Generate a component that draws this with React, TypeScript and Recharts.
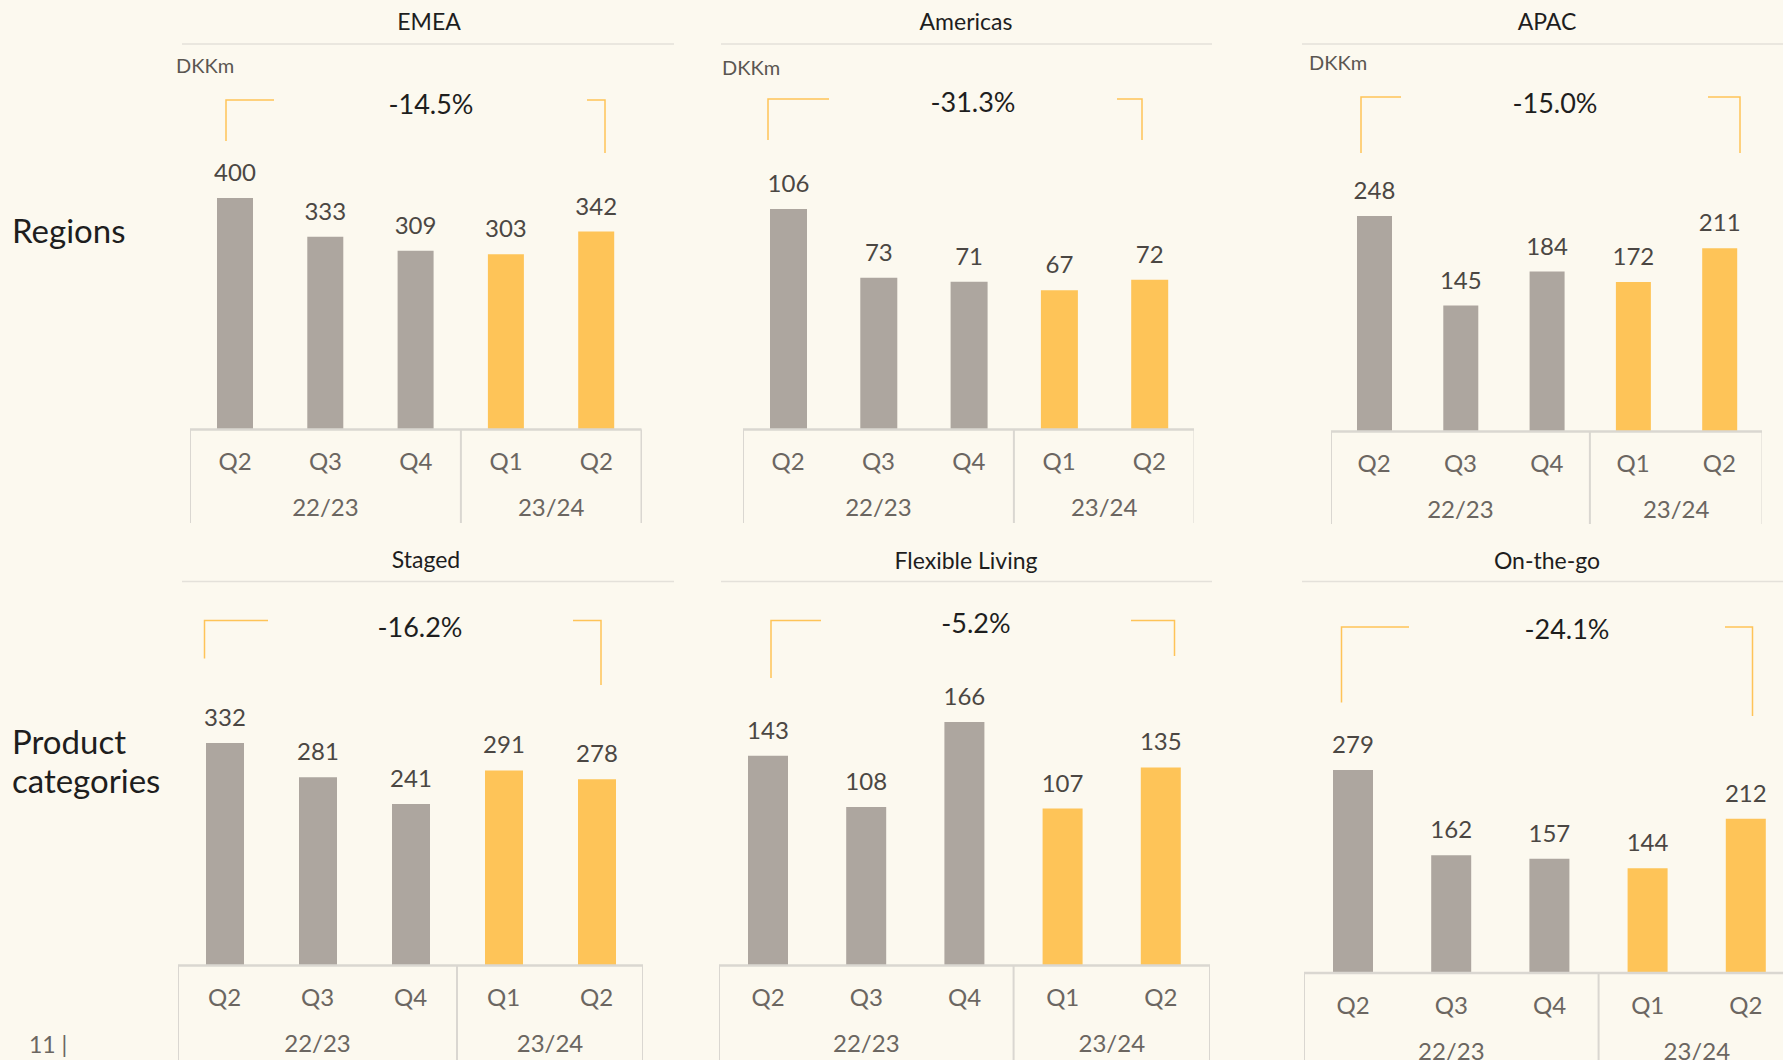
import { BarChart, Bar, XAxis, YAxis, Cell, LabelList } from 'recharts';

// shared category axis
const quarters = ['Q2', 'Q3', 'Q4', 'Q1', 'Q2'];
const fiscalYears = ['22/23', '22/23', '22/23', '23/24', '23/24'];

// DKKm per panel
const emeaValues = [400, 333, 309, 303, 342];
const americasValues = [106, 73, 71, 67, 72];
const apacValues = [248, 145, 184, 172, 211];
const stagedValues = [332, 281, 241, 291, 278];
const flexibleLivingValues = [143, 108, 166, 107, 135];
const onTheGoValues = [279, 162, 157, 144, 212];

const panelTitles = ['EMEA', 'Americas', 'APAC', 'Staged', 'Flexible Living', 'On-the-go'];
const changeLabels = ['-14.5%', '-31.3%', '-15.0%', '-16.2%', '-5.2%', '-24.1%'];
const panelValues = [emeaValues, americasValues, apacValues, stagedValues, flexibleLivingValues, onTheGoValues];
const showUnit = [true, true, true, false, false, false];

const FONT = 'Lato, "Open Sans", sans-serif';
const BG = '#FCF9EF';
const GREY_BAR = '#ADA69F';
const YELLOW_BAR = '#FEC458';
const AXIS = '#DAD7D1';

// page layout of each panel (px)
const layouts = [
  { left: 190, right: 641.5, plotTop: 198, base: 429.5, bottom: 523, bar: 36, titleX: 429, titleY: 21, lineX1: 182, lineX2: 674, lineY: 44, unitX: 176, unitY: 65, pctX: 431, pctY: 103, bl: [226, 274, 100, 141], br: [587, 605, 100, 153] },
  { left: 742.5, right: 1194, plotTop: 209, base: 429.5, bottom: 523, bar: 37, titleX: 966, titleY: 21, lineX1: 721, lineX2: 1212, lineY: 44, unitX: 722, unitY: 67, pctX: 973, pctY: 101, bl: [768, 829, 99, 140], br: [1117, 1142, 99, 140] },
  { left: 1330.5, right: 1762, plotTop: 216, base: 431.5, bottom: 524, bar: 35, titleX: 1547, titleY: 21, lineX1: 1302, lineX2: 1783, lineY: 44, unitX: 1309, unitY: 62, pctX: 1555, pctY: 102, bl: [1361, 1401, 97, 153], br: [1708, 1740, 97, 153] },
  { left: 178, right: 643, plotTop: 743, base: 965.5, bottom: 1060, bar: 38, titleX: 426, titleY: 559, lineX1: 182, lineX2: 674, lineY: 581.5, unitX: 0, unitY: 0, pctX: 420, pctY: 626, bl: [204.5, 268, 620.5, 658.5], br: [573, 601, 620.5, 685] },
  { left: 718.5, right: 1209.5, plotTop: 722, base: 965.5, bottom: 1060, bar: 40, titleX: 966, titleY: 559.5, lineX1: 721, lineX2: 1212, lineY: 581.5, unitX: 0, unitY: 0, pctX: 976, pctY: 622, bl: [771, 821, 620.5, 678], br: [1131, 1174.5, 620.5, 656] },
  { left: 1304, right: 1795, plotTop: 770, base: 973, bottom: 1060, bar: 40, titleX: 1547, titleY: 559.5, lineX1: 1302, lineX2: 1783, lineY: 581.5, unitX: 0, unitY: 0, pctX: 1567, pctY: 628, bl: [1341.5, 1409, 627, 702.5], br: [1725, 1752.5, 627, 716] },
];

const TOP_PAD = 60;

function makeTick(band: number, depth: number) {
  return (props: any) => {
    const { x, y, index } = props;
    const year = fiscalYears[index];
    const groupStart = index === 0 || fiscalYears[index - 1] !== year;
    const groupSize = fiscalYears.filter((f) => f === year).length;
    const isLast = index === fiscalYears.length - 1;
    return (
      <g>
        <text x={x} y={y + 31} textAnchor="middle" dominantBaseline="central" fill="#6B6661" fontSize={24} fontFamily={FONT}>
          {quarters[index]}
        </text>
        {groupStart && (
          <>
            <line x1={x - band / 2} x2={x - band / 2} y1={y} y2={y + depth} stroke={AXIS} strokeWidth={2} />
            <text x={x + ((groupSize - 1) * band) / 2} y={y + 77} textAnchor="middle" dominantBaseline="central" fill="#6B6661" fontSize={24} fontFamily={FONT}>
              {year}
            </text>
          </>
        )}
        {isLast && <line x1={x + band / 2} x2={x + band / 2} y1={y} y2={y + depth} stroke={AXIS} strokeWidth={2} />}
      </g>
    );
  };
}

function Panel({ idx }: { idx: number }) {
  const l = layouts[idx];
  const values = panelValues[idx];
  const data = values.map((v, i) => ({ key: i, value: v }));
  const width = l.right - l.left;
  const top = l.plotTop - TOP_PAD;
  const height = l.bottom - top;
  const axisH = l.bottom - l.base;
  const band = width / values.length;
  return (
    <div style={{ position: 'absolute', left: l.left, top }}>
      <BarChart width={width} height={height} data={data} margin={{ top: TOP_PAD, right: 0, left: 0, bottom: 0 }}>
        <XAxis
          dataKey="key"
          type="category"
          interval={0}
          height={axisH}
          tickLine={false}
          tickSize={0}
          tickMargin={0}
          axisLine={{ stroke: AXIS, strokeWidth: 2.5 }}
          tick={makeTick(band, axisH)}
        />
        <YAxis hide type="number" domain={[0, Math.max(...values)]} allowDataOverflow />
        <Bar dataKey="value" barSize={l.bar} isAnimationActive={false}>
          {data.map((d, i) => (
            <Cell key={i} fill={fiscalYears[i] === '22/23' ? GREY_BAR : YELLOW_BAR} />
          ))}
          <LabelList dataKey="value" position="top" offset={17} fill="#4B4743" fontSize={24} fontFamily={FONT} />
        </Bar>
      </BarChart>
    </div>
  );
}

export default function App() {
  return (
    <div style={{ position: 'absolute', left: 0, top: 0, width: 1783, height: 1060, overflow: 'hidden', background: BG, fontFamily: FONT }}>
      {layouts.map((_, i) => (
        <Panel key={i} idx={i} />
      ))}
      <svg width={1783} height={1060} style={{ position: 'absolute', left: 0, top: 0, pointerEvents: 'none' }}>
        {layouts.map((l, i) => (
          <g key={i}>
            <text x={l.titleX} y={l.titleY} textAnchor="middle" dominantBaseline="central" fontSize={23} fill="#1E1E1E" fontFamily={FONT}>
              {panelTitles[i]}
            </text>
            <line x1={l.lineX1} x2={l.lineX2} y1={l.lineY} y2={l.lineY} stroke="#E4E1DA" strokeWidth={1.5} />
            {showUnit[i] && (
              <text x={l.unitX} y={l.unitY} dominantBaseline="central" fontSize={20} fill="#5A5651" fontFamily={FONT}>
                DKKm
              </text>
            )}
            <path d={`M${l.bl[0]} ${l.bl[3]} V${l.bl[2]} H${l.bl[1]}`} fill="none" stroke={YELLOW_BAR} strokeWidth={1.5} />
            <path d={`M${l.br[0]} ${l.br[2]} H${l.br[1]} V${l.br[3]}`} fill="none" stroke={YELLOW_BAR} strokeWidth={1.5} />
            <text x={l.pctX} y={l.pctY} textAnchor="middle" dominantBaseline="central" fontSize={27} fill="#1E1E1E" fontFamily={FONT}>
              {changeLabels[i]}
            </text>
          </g>
        ))}
        <text x={12} y={230} dominantBaseline="central" fontSize={33} fill="#1E1E1E" fontFamily={FONT}>
          Regions
        </text>
        <text x={12} y={741} dominantBaseline="central" fontSize={33} fill="#1E1E1E" fontFamily={FONT}>
          Product
        </text>
        <text x={12} y={780} dominantBaseline="central" fontSize={33} fill="#1E1E1E" fontFamily={FONT}>
          categories
        </text>
        <text x={29} y={1044} dominantBaseline="central" fontSize={23} fill="#6B6661" fontFamily={FONT}>
          11 |
        </text>
      </svg>
    </div>
  );
}
